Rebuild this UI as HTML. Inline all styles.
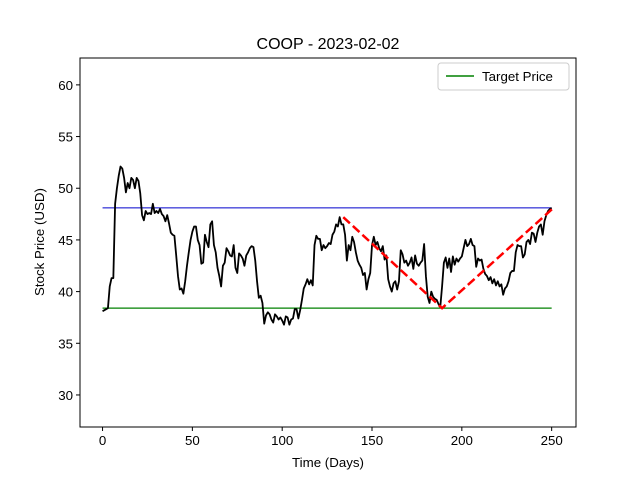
<!DOCTYPE html>
<html><head><meta charset="utf-8"><style>
body{margin:0;background:#fff}
svg text{font-family:"Liberation Sans","DejaVu Sans",sans-serif;fill:#000}
</style></head><body>
<svg id="chart" width="640" height="480" xmlns="http://www.w3.org/2000/svg">
<rect width="640" height="480" fill="#fff"/>
<text x="328" y="49" font-size="16" text-anchor="middle">COOP - 2023-02-02</text>
<g id="plot"></g>
<rect x="80" y="58" width="496" height="369" fill="none" stroke="#000" stroke-width="1"/>
<text x="328" y="467" font-size="13.3" text-anchor="middle">Time (Days)</text>
<text x="44" y="242" font-size="13.3" text-anchor="middle" transform="rotate(-90 44 242)">Stock Price (USD)</text>
<g>
<rect x="438" y="63" width="131" height="27" rx="3" fill="#fff" stroke="#ccc"/>
<line x1="446" y1="76" x2="474" y2="76" stroke="#008000" stroke-width="1.5"/>
<text x="482" y="81" font-size="13.3">Target Price</text>
</g>
</svg>
<script>
const xTicks=[0,50,100,150,200,250];
const yTicks=[30,35,40,45,50,55,60];
const prices=[38.1,38.2,38.3,38.4,40.5,41.3,41.3,48.5,50,51.2,52.1,51.9,51,49.6,50.5,50,51,50.8,50,51,50.7,49.5,47.4,46.9,47.8,47.5,47.6,47.5,48.5,47.6,47.8,47.6,48,47.5,47.3,46.8,47.4,46.6,45.7,45.5,45.4,43.5,41.5,40.2,40.3,39.8,41,42.5,43.8,45,45.8,46.3,46.3,45,44.5,42.7,42.8,45.5,44.8,44.3,46.5,46.8,44.5,43.8,42.3,41.5,40.5,42.5,42.8,44.2,43.9,43.5,43.4,44.5,42.3,41.8,43.7,43.5,43.2,42.5,43.5,43.8,44.2,44.4,44.3,43,41,39.4,39.6,38.9,36.9,37.7,38,37.8,37.3,37,37.8,37.6,37.3,37.5,37.2,36.8,37.6,37.5,36.8,37.3,37.4,38.3,38.3,37.4,38.2,39.2,40.3,40.7,41.2,40.7,41.1,40.6,44.5,45.4,45.1,45.1,44,44.5,44.2,44.4,44.7,44.6,45.5,45.8,46.5,46.3,47.2,46.5,46.5,45.5,43,44.5,44,45.3,44.8,43.8,43,42.6,42.3,41.6,41.8,40.2,41.2,41.8,44.5,45.3,44.5,44.8,44.2,43.9,44.4,43.1,43.5,41.2,40.5,40,40.8,41,40.2,41,44,43.6,42.8,43,42.5,42.8,43.3,42.2,43.5,42.7,42.5,42.8,43,44.6,41.5,39.5,38.9,40,39.5,39.3,39.2,38.8,
38.5,40.5,42.8,43.3,42.3,43.2,41.9,43.4,42.6,43.2,42.9,43.2,43.4,44.2,45,44.4,44.6,45.1,44.5,44.4,42.4,43.2,43,43.1,42.2,41.7,41.5,41.1,41.4,40.8,41.2,40.6,41,40.5,40.7,39.7,40.3,40.5,41,41.8,42,42,43.8,44.5,44.4,44.4,43.3,43.6,44.8,45,44.6,45.7,45.6,44.8,45.7,46.3,46.5,45.5,46.8,47.4,47.8,48,48.1];
const upperLevel=[48.1];
const targetLevel=[38.4];
const trendDays=[134,189,251];
const trendPrices=[47.2,38.4,48.1];

const NS="http://www.w3.org/2000/svg";
const X0=80,X1=576,Y0=58,Y1=427,xmin=-12.55,xmax=263.55,ymin=26.9,ymax=62.6;
const sx=v=>X0+(v-xmin)/(xmax-xmin)*(X1-X0);
const sy=v=>Y1-(v-ymin)/(ymax-ymin)*(Y1-Y0);
const g=document.getElementById('plot');
function mk(t,a){const e=document.createElementNS(NS,t);for(const k in a)e.setAttribute(k,a[k]);g.appendChild(e);return e;}
xTicks.forEach(t=>{
  const l=mk('line',{x1:sx(t),x2:sx(t),y1:Y1,y2:Y1+4,stroke:'#000'});
  
  
  const tx=mk('text',{x:sx(t),y:Y1+18,'font-size':13.3,'text-anchor':'middle'});tx.textContent=t;
  
  
});
yTicks.forEach(t=>{
  const l=mk('line',{x1:X0-4,x2:X0,y1:sy(t),y2:sy(t),stroke:'#000'});
  
  
  const tx=mk('text',{x:X0-7,y:sy(t)+5,'font-size':13.3,'text-anchor':'end'});tx.textContent=t;
  
  
});
const last=prices.length-1;
const ul=mk('line',{x1:sx(0),x2:sx(last),y1:sy(upperLevel[0]),y2:sy(upperLevel[0]),stroke:'#0000cc','stroke-width':1});


const tl=mk('line',{x1:sx(0),x2:sx(last),y1:sy(targetLevel[0]),y2:sy(targetLevel[0]),stroke:'#008000','stroke-width':1.2});


const pl=mk('polyline',{points:prices.map((p,i)=>sx(i)+','+sy(p)).join(' '),fill:'none',stroke:'#000','stroke-width':1.8,'stroke-linejoin':'round'});


const tr=mk('polyline',{points:trendDays.map((d,i)=>sx(d)+','+sy(trendPrices[i])).join(' '),fill:'none',stroke:'#ff0000','stroke-width':2.5,'stroke-dasharray':'9,4'});


</script>
</body></html>
